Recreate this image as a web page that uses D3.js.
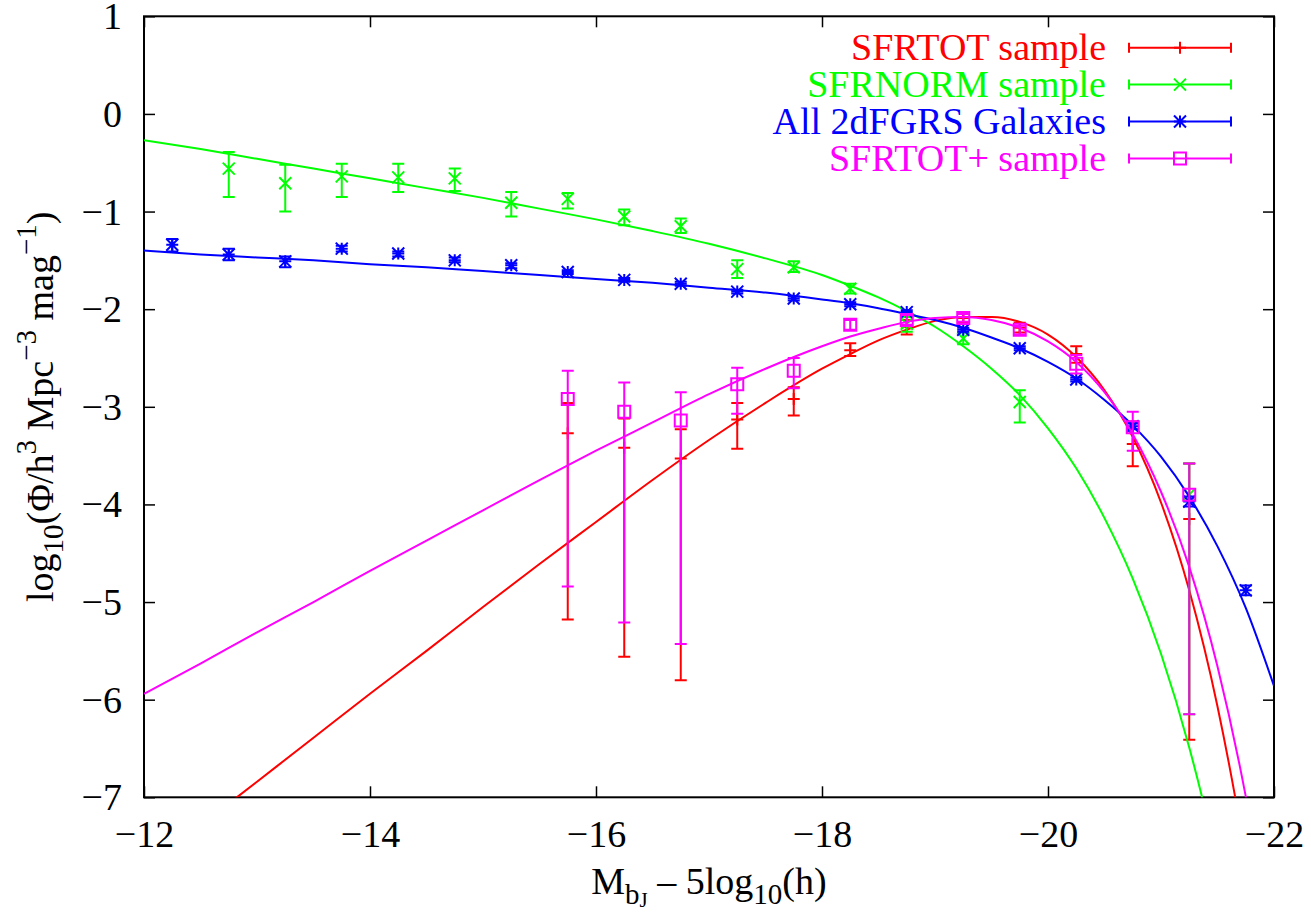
<!DOCTYPE html>
<html>
<head>
<meta charset="utf-8">
<script src="https://cdn.jsdelivr.net/npm/d3@7"></script>
<style>
  html, body { margin: 0; padding: 0; background: #ffffff; }
  svg { display: block; }
  text { font-family: "Liberation Serif", "Times New Roman", Times, serif; }
</style>
</head>
<body>
<svg id="chart" width="1311" height="913"></svg>
<script>
// ---- Axis ticks ----
const xTicks = [-12, -14, -16, -18, -20, -22];
const yTicks = [1, 0, -1, -2, -3, -4, -5, -6, -7];

// ---- Series names (legend order) ----
const seriesNames = ["SFRTOT sample", "SFRNORM sample", "All 2dFGRS Galaxies", "SFRTOT+ sample"];

// ---- SFRTOT sample: binned luminosity function with errors ----
const sfrtotMag    = [-15.75, -16.25, -16.75, -17.25, -17.75, -18.25, -18.75, -19.25, -19.75, -20.25, -20.75, -21.25];
const sfrtotLogPhi = [-3.27, -3.42, -3.53, -3.13, -2.92, -2.42, -2.18, -2.09, -2.19, -2.46, -3.38, -4.15];
const sfrtotLow    = [-5.18, -5.56, -5.80, -3.43, -3.09, -2.48, -2.26, -2.14, -2.24, -2.55, -3.61, -6.41];
const sfrtotHigh   = [-2.96, -3.12, -3.23, -2.96, -2.80, -2.35, -2.11, -2.04, -2.14, -2.38, -3.15, -3.58];

// ---- SFRNORM sample ----
const sfrnormMag    = [-12.75, -13.25, -13.75, -14.25, -14.75, -15.25, -15.75, -16.25, -16.75, -17.25, -17.75, -18.25, -18.75, -19.25, -19.75, -21.25];
const sfrnormLogPhi = [-0.56, -0.71, -0.64, -0.65, -0.66, -0.91, -0.87, -1.05, -1.15, -1.59, -1.57, -1.79, -2.15, -2.30, -2.95, -3.90];
const sfrnormLow    = [-0.85, -1.00, -0.85, -0.80, -0.79, -1.05, -0.97, -1.14, -1.22, -1.68, -1.62, -1.84, -2.23, -2.36, -3.16, -6.15];
const sfrnormHigh   = [-0.39, -0.52, -0.51, -0.51, -0.56, -0.80, -0.81, -0.98, -1.07, -1.50, -1.51, -1.74, -2.08, -2.24, -2.83, -3.58];

// ---- All 2dFGRS galaxies ----
const allMag    = [-12.25, -12.75, -13.25, -13.75, -14.25, -14.75, -15.25, -15.75, -16.25, -16.75, -17.25, -17.75, -18.25, -18.75, -19.25, -19.75, -20.25, -20.75, -21.25, -21.75];
const allLogPhi = [-1.34, -1.44, -1.51, -1.38, -1.43, -1.50, -1.55, -1.62, -1.70, -1.74, -1.82, -1.89, -1.95, -2.03, -2.21, -2.40, -2.72, -3.20, -3.97, -4.88];
const allLow    = [-1.41, -1.50, -1.57, -1.41, -1.46, -1.52, -1.58, -1.64, -1.72, -1.76, -1.84, -1.91, -1.97, -2.05, -2.23, -2.42, -2.74, -3.23, -4.02, -4.93];
const allHigh   = [-1.28, -1.38, -1.46, -1.35, -1.41, -1.47, -1.53, -1.60, -1.68, -1.72, -1.80, -1.87, -1.93, -2.01, -2.19, -2.38, -2.70, -3.17, -3.92, -4.83];

// ---- SFRTOT+ sample ----
const sfrtotPlusMag    = [-15.75, -16.25, -16.75, -17.25, -17.75, -18.25, -18.75, -19.25, -19.75, -20.25, -20.75, -21.25];
const sfrtotPlusLogPhi = [-2.92, -3.05, -3.14, -2.77, -2.63, -2.16, -2.11, -2.09, -2.21, -2.56, -3.21, -3.90];
const sfrtotPlusLow    = [-4.84, -5.21, -5.43, -3.07, -2.81, -2.21, -2.16, -2.13, -2.26, -2.66, -3.45, -6.15];
const sfrtotPlusHigh   = [-2.63, -2.75, -2.85, -2.60, -2.50, -2.11, -2.06, -2.05, -2.17, -2.47, -3.05, -3.58];

// ---- Schechter fit curves, tabulated on a magnitude grid ----
const fitMag = [-12, -12.5, -13, -13.5, -14, -14.5, -15, -15.5, -16, -16.5, -17, -17.5, -18, -18.25, -18.5, -18.75,
                -19, -19.25, -19.5, -19.75, -20, -20.25, -20.5, -20.75, -21, -21.25, -21.5, -21.75, -22];
const sfrtotFit = [-7.74, -7.29, -6.84, -6.39, -5.94, -5.50, -5.05, -4.61, -4.18, -3.75, -3.34, -2.96, -2.61, -2.46, -2.32, -2.21,
                   -2.12, -2.08, -2.08, -2.13, -2.26, -2.49, -2.83, -3.31, -3.98, -4.88, -6.07, -7.63, -9.64];
const sfrnormFit = [-0.27, -0.36, -0.46, -0.56, -0.66, -0.76, -0.86, -0.97, -1.08, -1.20, -1.33, -1.48, -1.65, -1.76, -1.88, -2.02,
                    -2.18, -2.38, -2.61, -2.88, -3.22, -3.63, -4.14, -4.76, -5.53, -6.49, -7.68, -9.17, -11.04];
const allFit = [-1.40, -1.44, -1.47, -1.50, -1.54, -1.57, -1.61, -1.65, -1.69, -1.73, -1.78, -1.83, -1.90, -1.94, -1.99, -2.05,
                -2.11, -2.19, -2.29, -2.40, -2.54, -2.71, -2.93, -3.19, -3.51, -3.92, -4.43, -5.06, -5.86];
const sfrtotPlusFit = [-5.94, -5.63, -5.31, -5.00, -4.68, -4.37, -4.06, -3.75, -3.45, -3.16, -2.87, -2.61, -2.38, -2.28, -2.20, -2.13,
                       -2.09, -2.08, -2.11, -2.19, -2.33, -2.54, -2.85, -3.28, -3.87, -4.64, -5.66, -6.99, -8.70];

// ---- Styling ----
const colors = ["#ff0000", "#00ff00", "#0000ff", "#ff00ff"];
const markerTypes = ["plus", "cross", "star", "square"];
const FONT = 38, SUB = 29, SUBSUB = 21;
const SERIF = '"Liberation Serif", "Times New Roman", Times, serif';

const plot = { left: 144, right: 1274, top: 16.3, bottom: 797.3 };
const x = d3.scaleLinear().domain([-12, -22]).range([plot.left, plot.right]);
const y = d3.scaleLinear().domain([1, -7]).range([plot.top, plot.bottom]);

const svg = d3.select("#chart");

svg.append("defs").append("clipPath").attr("id", "plotClip")
  .append("rect")
  .attr("x", plot.left).attr("y", plot.top)
  .attr("width", plot.right - plot.left).attr("height", plot.bottom - plot.top);

// ---- Axes: ticks on all four sides, pointing inward ----
const fmt = d3.format("d");
const gx = svg.append("g").attr("transform", `translate(0,${plot.bottom})`)
  .call(d3.axisBottom(x).tickValues(xTicks).tickFormat(fmt).tickSizeInner(-11).tickSizeOuter(0));
const gxTop = svg.append("g").attr("transform", `translate(0,${plot.top})`)
  .call(d3.axisTop(x).tickValues(xTicks).tickFormat("").tickSizeInner(-11).tickSizeOuter(0));
const gy = svg.append("g").attr("transform", `translate(${plot.left},0)`)
  .call(d3.axisLeft(y).tickValues(yTicks).tickFormat(fmt).tickSizeInner(-11).tickSizeOuter(0).tickPadding(22));
const gyRight = svg.append("g").attr("transform", `translate(${plot.right},0)`)
  .call(d3.axisRight(y).tickValues(yTicks).tickFormat("").tickSizeInner(-11).tickSizeOuter(0));

[gx, gxTop, gy, gyRight].forEach(g => {
  g.attr("font-family", SERIF);
  g.select(".domain").remove();
  g.selectAll(".tick line").attr("stroke", "#000").attr("stroke-width", 1.5);
  g.selectAll("text").attr("fill", "#000").attr("font-size", FONT).attr("font-family", SERIF);
});
gx.selectAll(".tick text").attr("y", 50).attr("dy", 0);
gy.selectAll(".tick text").attr("dy", "0.33em");

// Plot frame
svg.append("rect")
  .attr("x", plot.left).attr("y", plot.top)
  .attr("width", plot.right - plot.left).attr("height", plot.bottom - plot.top)
  .attr("fill", "none").attr("stroke", "#000").attr("stroke-width", 2);

// ---- Rich text helper (sub/superscripts) ----
function richText(sel, parts) {
  const offs = { 0: 0, 1: -17, "-1": 10, "-2": 13 };
  const sizes = { 0: FONT, 1: SUB, "-1": SUB, "-2": SUBSUB };
  let cur = 0;
  parts.forEach(([t, lvl]) => {
    const target = offs[lvl];
    sel.append("tspan").attr("dy", target - cur).attr("font-size", sizes[lvl]).text(t);
    cur = target;
  });
}

// Axis titles
const xTitle = svg.append("text")
  .attr("x", (plot.left + plot.right) / 2).attr("y", 894)
  .attr("text-anchor", "middle").attr("fill", "#000").attr("font-size", FONT).attr("font-family", SERIF);
richText(xTitle, [["M", 0], ["b", -1], ["J", -2], [" \u2013 5log", 0], ["10", -1], ["(h)", 0]]);

const yTitle = svg.append("text")
  .attr("transform", `translate(53,${(plot.top + plot.bottom) / 2}) rotate(-90)`)
  .attr("text-anchor", "middle").attr("fill", "#000").attr("font-size", FONT).attr("font-family", SERIF);
richText(yTitle, [["log", 0], ["10", -1], ["(\u03A6/h", 0], ["3", 1], [" Mpc", 0], ["\u22123", 1],
                  [" mag", 0], ["\u22121", 1], [")", 0]]);

// ---- Marker drawing ----
function markerPath(type, cx, cy, h) {
  const p = d3.path();
  if (type === "plus" || type === "star") {
    p.moveTo(cx - h, cy); p.lineTo(cx + h, cy);
    p.moveTo(cx, cy - h); p.lineTo(cx, cy + h);
  }
  if (type === "cross" || type === "star") {
    p.moveTo(cx - h, cy - h); p.lineTo(cx + h, cy + h);
    p.moveTo(cx - h, cy + h); p.lineTo(cx + h, cy - h);
  }
  if (type === "square") {
    p.rect(cx - h, cy - h, 2 * h, 2 * h);
  }
  return p.toString();
}

const series = [
  { mag: sfrtotMag, val: sfrtotLogPhi, lo: sfrtotLow, hi: sfrtotHigh, fit: sfrtotFit },
  { mag: sfrnormMag, val: sfrnormLogPhi, lo: sfrnormLow, hi: sfrnormHigh, fit: sfrnormFit },
  { mag: allMag, val: allLogPhi, lo: allLow, hi: allHigh, fit: allFit },
  { mag: sfrtotPlusMag, val: sfrtotPlusLogPhi, lo: sfrtotPlusLow, hi: sfrtotPlusHigh, fit: sfrtotPlusFit }
];

const line = d3.line()
  .x(d => x(d[0])).y(d => y(d[1]))
  .curve(d3.curveMonotoneX);

const CAP = 6, MK = 6;
const plotG = svg.append("g").attr("clip-path", "url(#plotClip)");

series.forEach((s, i) => {
  const col = colors[i];
  const g = plotG.append("g");
  // Fitted function
  g.append("path")
    .datum(fitMag.map((m, k) => [m, s.fit[k]]))
    .attr("d", line)
    .attr("fill", "none").attr("stroke", col).attr("stroke-width", 2);
  // Error bars
  const pts = s.mag.map((m, k) => ({ m, v: s.val[k], lo: s.lo[k], hi: s.hi[k] }));
  g.selectAll("path.eb").data(pts).enter().append("path")
    .attr("class", "eb")
    .attr("d", d => {
      const p = d3.path();
      const cx = x(d.m), y0 = y(d.lo), y1 = y(d.hi);
      p.moveTo(cx, y0); p.lineTo(cx, y1);
      p.moveTo(cx - CAP, y0); p.lineTo(cx + CAP, y0);
      p.moveTo(cx - CAP, y1); p.lineTo(cx + CAP, y1);
      return p.toString();
    })
    .attr("fill", "none").attr("stroke", col).attr("stroke-width", 2);
  // Point markers
  g.selectAll("path.mk").data(pts).enter().append("path")
    .attr("class", "mk")
    .attr("d", d => markerPath(markerTypes[i], x(d.m), y(d.v), MK))
    .attr("fill", "none").attr("stroke", col).attr("stroke-width", 2);
});

// ---- Legend ----
const legend = svg.append("g");
const legTextX = 1106, legX0 = 1129, legX1 = 1231, legRow0 = 47.7, legStep = 36.9;
seriesNames.forEach((name, i) => {
  const cy = legRow0 + i * legStep;
  const col = colors[i];
  legend.append("text")
    .attr("x", legTextX).attr("y", cy + 12.3)
    .attr("text-anchor", "end").attr("fill", col).attr("font-size", FONT).attr("font-family", SERIF)
    .text(name);
  const p = d3.path();
  p.moveTo(legX0, cy); p.lineTo(legX1, cy);
  p.moveTo(legX0, cy - 5); p.lineTo(legX0, cy + 5);
  p.moveTo(legX1, cy - 5); p.lineTo(legX1, cy + 5);
  legend.append("path").attr("d", p.toString())
    .attr("fill", "none").attr("stroke", col).attr("stroke-width", 2);
  legend.append("path").attr("d", markerPath(markerTypes[i], (legX0 + legX1) / 2, cy, MK))
    .attr("fill", "none").attr("stroke", col).attr("stroke-width", 2);
});
</script>
</body>
</html>
